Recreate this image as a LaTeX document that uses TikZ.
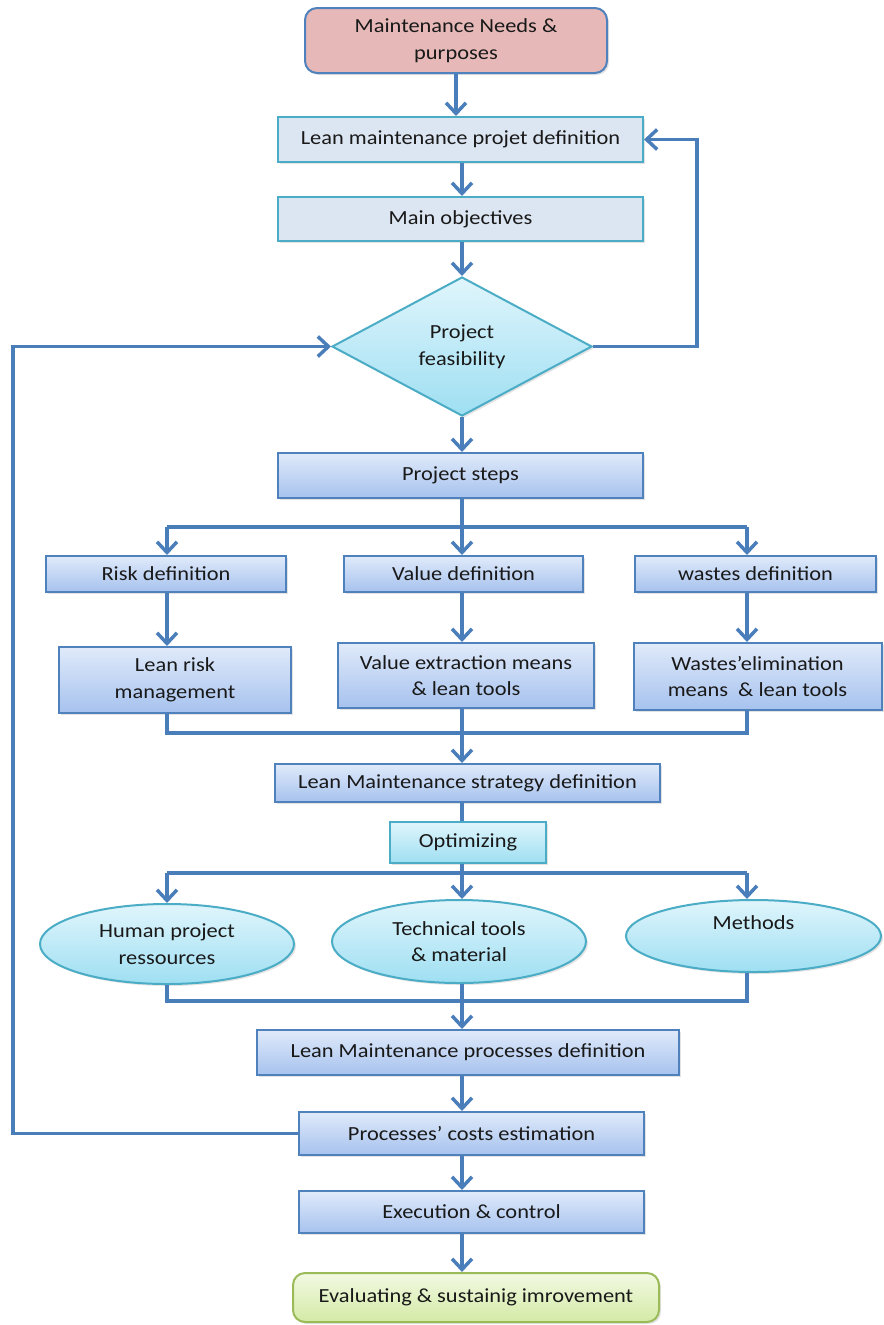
\documentclass[tikz,border=0pt]{standalone}
\usepackage{fontspec}
\setmainfont[FakeStretch=1.12]{Carlito}
\usepackage{tikz}
\usetikzlibrary{arrows.meta, positioning, shapes.geometric, shadows}
\definecolor{linkblue}{RGB}{74,126,187}
\definecolor{boxedge}{RGB}{79,129,189}
\definecolor{tealedge}{RGB}{75,172,198}
\definecolor{pinkfill}{RGB}{230,185,184}
\definecolor{paleblue}{RGB}{220,230,242}
\definecolor{bluetop}{RGB}{224,234,250}
\definecolor{bluebot}{RGB}{166,194,238}
\definecolor{cyantop}{RGB}{224,245,252}
\definecolor{cyanbot}{RGB}{158,223,242}
\definecolor{greentop}{RGB}{242,249,226}
\definecolor{greenbot}{RGB}{212,234,166}
\definecolor{greenedge}{RGB}{155,187,89}

\begin{document}
\begin{tikzpicture}[x=0.75pt, y=-0.75pt,
  flow/.style={line width=2.6pt, draw=linkblue},
  arr/.style={flow, -{Straight Barb[length=8pt,width=15pt]}},
  txt/.style={font=\fontsize{15}{20}\selectfont, text=black!90, align=center, inner sep=0pt},
  shade/.style={drop shadow={opacity=0.22, shadow xshift=1.5pt, shadow yshift=-1.5pt}},
  startbox/.style={txt, rectangle, rounded corners=9pt, draw=boxedge, line width=1.5pt, fill=pinkfill, shade},
  greybox/.style={txt, rectangle, draw=tealedge, line width=1.5pt, fill=paleblue, shade},
  bluebox/.style={txt, rectangle, draw=boxedge, line width=1.5pt, top color=bluetop, bottom color=bluebot, shade},
  cyanbox/.style={txt, rectangle, draw=tealedge, line width=1.5pt, top color=cyantop, bottom color=cyanbot, shade},
  decision/.style={txt, diamond, aspect=1.9, draw=tealedge, line width=1.5pt, top color=cyantop, bottom color=cyanbot, shade},
  oval/.style={txt, ellipse, draw=tealedge, line width=1.5pt, top color=cyantop, bottom color=cyanbot, shade},
  endbox/.style={txt, rectangle, rounded corners=9pt, draw=greenedge, line width=1.5pt, top color=greentop, bottom color=greenbot, shade}]
  \useasboundingbox (0,0) rectangle (883,1325);

  % columns and rails
  \coordinate (spine) at (462,0);
  \coordinate (colL) at (167,0);
  \coordinate (colR) at (747,0);
  \coordinate (leftrail) at (13,0);
  \coordinate (rightrail) at (697,0);

  % upper part
  \node[startbox, minimum width=226.5pt, minimum height=48.75pt] (need) at (456,40.5) {Maintenance Needs \&\\purposes};
  \node[greybox, minimum width=273.75pt, minimum height=33.75pt] (projdef) at (460.5,139.5) {Lean maintenance projet definition};
  \node[greybox, minimum width=273.75pt, minimum height=33pt] (objectives) at (460.5,219) {Main objectives};
  \node[decision, minimum width=195pt, minimum height=104.25pt] (feas) at (462,346.5) {Project\\feasibility};
  \node[bluebox, minimum width=273.75pt, minimum height=33.75pt] (steps) at (460.5,475.5) {Project steps};

  % three branches
  \node[bluebox, minimum width=180pt, minimum height=27pt] (riskdef) at (166,574) {Risk definition};
  \node[bluebox, minimum width=179.25pt, minimum height=27pt] (valuedef) at (463.5,574) {Value definition};
  \node[bluebox, minimum width=180.75pt, minimum height=27pt] (wastedef) at (755.5,574) {wastes definition};
  \node[bluebox, minimum width=174pt, minimum height=49.5pt] (riskman) at (175,680) {Lean risk\\management};
  \node[bluebox, minimum width=192pt, minimum height=48.75pt] (valueext) at (466,675.5) {Value extraction means\\\& lean tools};
  \node[bluebox, minimum width=186pt, minimum height=50.25pt] (wasteelim) at (757.5,676.5) {Wastes’elimination\\means~~\& lean tools};

  \node[bluebox, minimum width=288.75pt, minimum height=28.5pt] (strategy) at (467.5,783) {Lean Maintenance strategy definition};
  \node[cyanbox, minimum width=117pt, minimum height=30.75pt] (optim) at (468,842.5) {Optimizing};

  % resources
  \node[oval, minimum width=190.5pt, minimum height=60pt] (human) at (167,944) {Human project\\ressources};
  \node[oval, minimum width=190.5pt, minimum height=62.25pt] (technical) at (459,941.5) {Technical tools\\\& material};
  \node[oval, minimum width=191.25pt, minimum height=54pt] (methods) at (753.5,936) {Methods\\\mbox{}};

  % lower part
  \node[bluebox, minimum width=316.5pt, minimum height=33.75pt] (procdef) at (468,1052.5) {Lean Maintenance processes definition};
  \node[bluebox, minimum width=258.75pt, minimum height=32.25pt] (costs) at (471.5,1133.5) {Processes’ costs estimation};
  \node[bluebox, minimum width=258.75pt, minimum height=31.5pt] (exec) at (471.5,1212) {Execution \& control};
  \node[endbox, minimum width=274.5pt, minimum height=36.75pt] (eval) at (476,1297.5) {Evaluating \& sustainig imrovement};

  \coordinate (fork1) at (462,527);
  \coordinate (join1) at (462,733);
  \coordinate (fork2) at (462,873);
  \coordinate (join2) at (462,1001);

  % main line
  \draw[arr] (need.south) -- (need.south |- projdef.north);
  \draw[arr] (projdef.south -| spine) -- (objectives.north -| spine);
  \draw[arr] (objectives.south -| spine) -- (feas.north);
  \draw[arr] (feas.south) -- (steps.north -| spine);

  \draw[flow] (steps.south -| spine) -- (fork1);
  \draw[flow] (fork1 -| colL) -- (fork1 -| colR);
  \draw[arr] (fork1 -| colL) -- (riskdef.north -| colL);
  \draw[arr] (fork1) -- (valuedef.north -| spine);
  \draw[arr] (fork1 -| colR) -- (wastedef.north -| colR);
  \draw[arr] (riskdef.south -| colL) -- (riskman.north -| colL);
  \draw[arr] (valuedef.south -| spine) -- (valueext.north -| spine);
  \draw[arr] (wastedef.south -| colR) -- (wasteelim.north -| colR);

  \draw[flow] (riskman.south -| colL) -- (join1 -| colL) -- (join1 -| colR) -- (wasteelim.south -| colR);
  \draw[flow] (valueext.south -| spine) -- (join1);
  \draw[arr] (join1) -- (strategy.north -| spine);
  \draw[flow] (strategy.south -| spine) -- (optim.north -| spine);
  \draw[flow] (optim.south -| spine) -- (fork2);

  \draw[flow] (fork2 -| colL) -- (fork2 -| colR);
  \draw[arr] (fork2 -| colL) -- (human.north -| colL);
  \draw[arr] (fork2) -- (technical.north -| spine);
  \draw[arr] (fork2 -| colR) -- (methods.north -| colR);
  \draw[flow] (human.south -| colL) -- (join2 -| colL) -- (join2 -| colR) -- (methods.south -| colR);
  \draw[flow] (technical.south -| spine) -- (join2);
  \draw[arr] (join2) -- (procdef.north -| spine);

  \draw[arr] (procdef.south -| spine) -- (costs.north -| spine);
  \draw[arr] (costs.south -| spine) -- (exec.north -| spine);
  \draw[arr] (exec.south -| spine) -- (eval.north -| spine);

  % feedback loops
  \draw[arr] (costs.west) -- (costs.west -| leftrail) -- (feas.west -| leftrail) -- (feas.west);
  \draw[arr] (feas.east) -- (feas.east -| rightrail) -- (projdef.east -| rightrail) -- (projdef.east);
\end{tikzpicture}
\end{document}
